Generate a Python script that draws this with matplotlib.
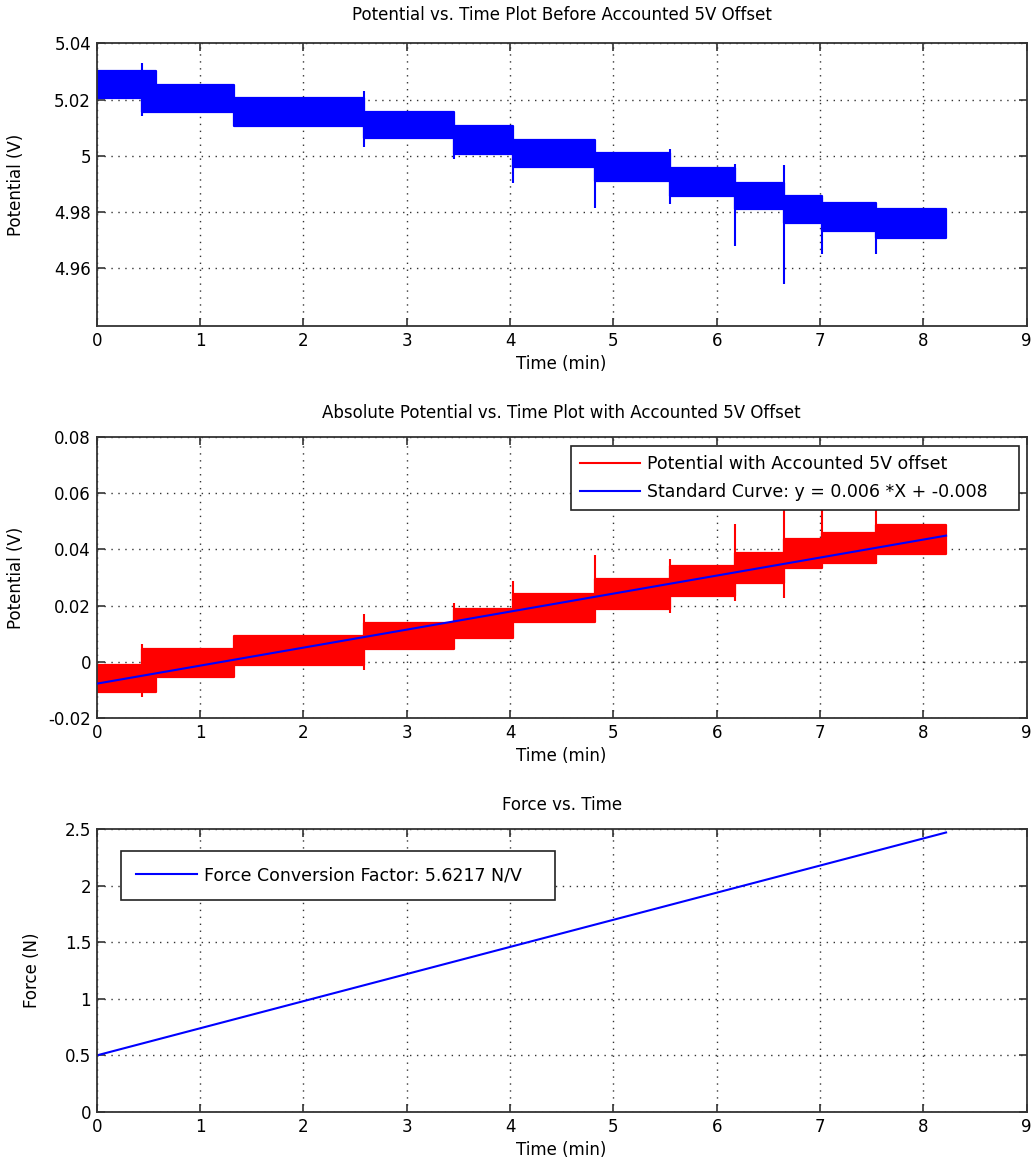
import numpy as np
import matplotlib
matplotlib.use('Agg')
from matplotlib import pyplot as plt

plt.rcParams['font.family'] = ['DejaVu Sans']
plt.rcParams['font.size'] = 12

# segment edges in time (min), shared by both potential plots
seg_t = [0, 0.44, 0.57, 1.33, 2.59, 3.46, 4.03, 4.82, 5.55, 6.18, 6.65, 7.02, 7.54, 8.22]

# raw potential, envelope of the noise band per segment (V)
raw_low = [5.0207, 5.0154, 5.0154, 5.0107, 5.0064, 5.0007, 4.9960, 4.9910, 4.9857, 4.9810, 4.9760, 4.9732, 4.9707]
raw_high = [5.0300, 5.0300, 5.0250, 5.0204, 5.0154, 5.0107, 5.0057, 5.0010, 4.9957, 4.9904, 4.9857, 4.9832, 4.9810]
# spikes in the raw signal
raw_spike_t = [0.44, 2.59, 3.46, 4.03, 4.82, 5.55, 6.18, 6.65, 7.02, 7.54]
raw_spike_lo = [5.0140, 5.0030, 4.9990, 4.9904, 4.9814, 4.9829, 4.9679, 4.9543, 4.9650, 4.9650]
raw_spike_hi = [5.0330, 5.0232, 5.0120, 5.0050, 5.0000, 5.0025, 4.9970, 4.9968, 4.9850, 4.9800]

# offset-corrected potential (V)
abs_low = [-0.0107, -0.0107, -0.0053, -0.0010, 0.0044, 0.0083, 0.0140, 0.0187, 0.0234, 0.0280, 0.0334, 0.0352, 0.0384]
abs_high = [-0.0010, 0.0044, 0.0044, 0.0090, 0.0137, 0.0187, 0.0240, 0.0294, 0.0341, 0.0388, 0.0438, 0.0460, 0.0485]
abs_spike_t = [0.44, 2.59, 3.46, 4.03, 4.82, 5.55, 6.18, 6.65, 7.02, 7.54]
abs_spike_lo = [-0.0125, -0.0028, 0.0100, 0.0150, 0.0200, 0.0173, 0.0216, 0.0227, 0.0350, 0.0348]
abs_spike_hi = [0.0062, 0.0169, 0.0209, 0.0287, 0.0381, 0.0367, 0.0492, 0.0657, 0.0550, 0.0550]

# standard curve end points
fit_t = [0, 8.22]
fit_v = [-0.0078, 0.0449]

# force
force_t = [0, 8.22]
force_n = [0.50, 2.47]

x_ticks = [0, 1, 2, 3, 4, 5, 6, 7, 8, 9]
y1_ticks = [4.96, 4.98, 5.00, 5.02, 5.04]
y1_labels = ['4.96', '4.98', '5', '5.02', '5.04']
y2_ticks = [-0.02, 0, 0.02, 0.04, 0.06, 0.08]
y2_labels = ['-0.02', '0', '0.02', '0.04', '0.06', '0.08']
y3_ticks = [0, 0.5, 1, 1.5, 2, 2.5]
y3_labels = ['0', '0.5', '1', '1.5', '2', '2.5']

fig = plt.figure(figsize=(10.34, 11.76), dpi=100)
ax1 = fig.add_axes([0.0935, 0.7228, 0.8994, 0.2404])
ax2 = fig.add_axes([0.0935, 0.3895, 0.8994, 0.2389])
ax3 = fig.add_axes([0.0935, 0.0544, 0.8994, 0.2406])


def style(ax):
    ax.set_xlim(0, 9)
    ax.set_xticks(x_ticks)
    ax.grid(True, color='#333333', linestyle=(0, (1, 4)), linewidth=1.0)
    ax.set_axisbelow(True)
    ax.tick_params(direction='in', top=True, right=True, length=6, width=1.2,
                   labelsize=12, pad=4, color='#333333')
    for s in ax.spines.values():
        s.set_linewidth(1.3)
        s.set_color('#333333')
    ax.set_xlabel('Time (min)', fontsize=12, labelpad=4)


def band(ax, low, high, color):
    lo = list(low) + [low[-1]]
    hi = list(high) + [high[-1]]
    ax.fill_between(seg_t, lo, hi, step='post', color=color, linewidth=1.6, edgecolor=color, zorder=2)


# top panel
band(ax1, raw_low, raw_high, '#0000FF')
ax1.vlines(raw_spike_t, raw_spike_lo, raw_spike_hi, color='#0000FF', linewidth=1.5, zorder=2)
style(ax1)
ax1.set_ylim(4.9395, 5.04)
ax1.set_yticks(y1_ticks)
ax1.set_yticklabels(y1_labels)
ax1.set_ylabel('Potential (V)', fontsize=12)
ax1.yaxis.set_label_coords(-0.0771, 0.5)
ax1.set_title('Potential vs. Time Plot Before Accounted 5V Offset', fontsize=12, pad=17)

# middle panel
band(ax2, abs_low, abs_high, '#FF0000')
ax2.vlines(abs_spike_t, abs_spike_lo, abs_spike_hi, color='#FF0000', linewidth=1.5, zorder=2)
ax2.plot([], [], color='#FF0000', linewidth=1.5, label='Potential with Accounted 5V offset')
ax2.plot(fit_t, fit_v, color='#0000FF', linewidth=1.5, zorder=3,
         label='Standard Curve: y = 0.006 *X + -0.008')
style(ax2)
ax2.set_ylim(-0.02, 0.08)
ax2.set_yticks(y2_ticks)
ax2.set_yticklabels(y2_labels)
ax2.set_ylabel('Potential (V)', fontsize=12)
ax2.yaxis.set_label_coords(-0.0771, 0.5)
ax2.set_title('Absolute Potential vs. Time Plot with Accounted 5V Offset', fontsize=12, pad=14)
leg = ax2.legend(loc='upper left', bbox_to_anchor=(0.510, 0, 0.4817, 0.968), mode='expand',
                 borderaxespad=0, fancybox=False, framealpha=1, edgecolor='#222222',
                 fontsize=12.5, handlelength=3.5, handletextpad=0.4, borderpad=0.5,
                 labelspacing=0.6)
leg.get_frame().set_linewidth(1.2)
leg.set_zorder(5)

# bottom panel
ax3.plot(force_t, force_n, color='#0000FF', linewidth=1.5,
         label='Force Conversion Factor: 5.6217 N/V')
style(ax3)
ax3.set_ylim(0, 2.5)
ax3.set_yticks(y3_ticks)
ax3.set_yticklabels(y3_labels)
ax3.set_ylabel('Force (N)', fontsize=12)
ax3.yaxis.set_label_coords(-0.0599, 0.5)
ax3.set_title('Force vs. Time', fontsize=12, pad=14)
leg3 = ax3.legend(loc='upper left', bbox_to_anchor=(0.0258, 0, 0.467, 0.923), mode='expand',
                  borderaxespad=0, fancybox=False, framealpha=1, edgecolor='#222222',
                  fontsize=12.5, handlelength=3.5, handletextpad=0.4, borderpad=0.9)
leg3.get_frame().set_linewidth(1.2)

fig.savefig('out.png', dpi=100)
